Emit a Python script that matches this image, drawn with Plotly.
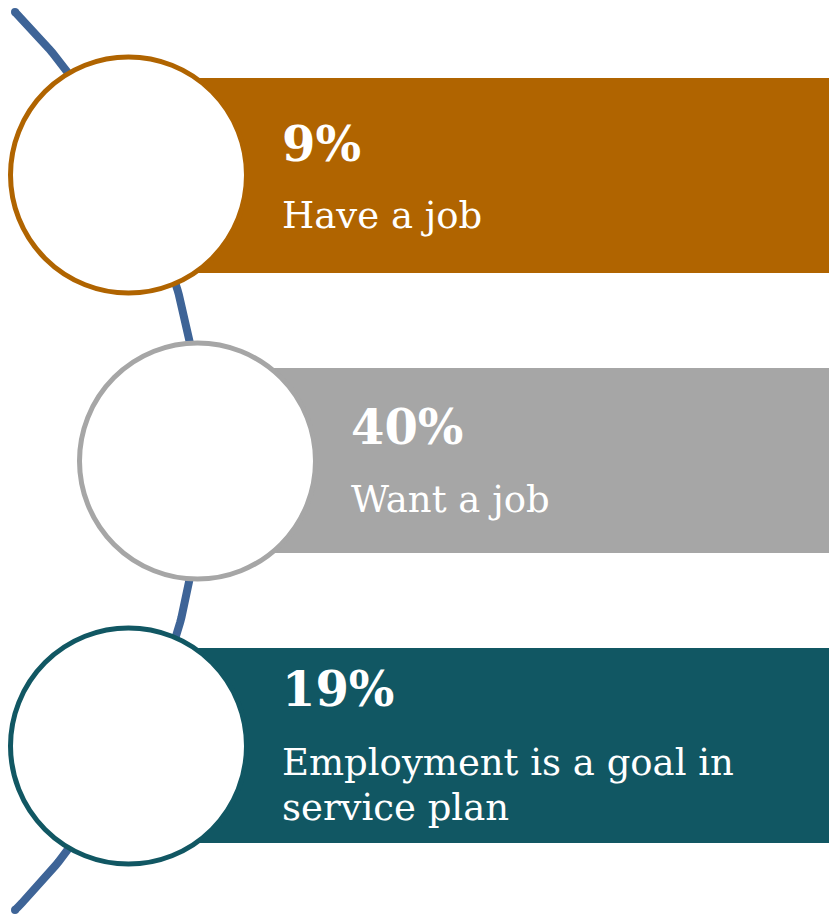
import numpy as np
import plotly.graph_objects as go

# Figures shown in each row
pct_values = [9, 40, 19]
label_lines = [
    ["Have a job"],
    ["Want a job"],
    ["Employment is a goal in", "service plan"],
]
fill_colors = ["#B06400", "#A6A6A6", "#115763"]
arc_color = "#3E6497"

W, H = 829, 916

# Layout geometry (pixel space, y grows downward)
circle_cx = [128.5, 197.5, 128.5]
circle_cy = [175, 461, 746]
circle_r = 118
band_top = [78, 368, 648]
band_bottom = [273, 553, 843]
text_x = [280, 349, 280]
pct_baseline = [160, 443, 705]
label_baseline = [[228], [512], [775, 820]]

FONT = "DejaVu Serif"
PCT_SIZE = 48
LBL_SIZE = 37

fig = go.Figure()

# Connecting arc: quarter circle centred far to the left
arc_cx, arc_cy, arc_r = -434, 461, 635
theta = np.linspace(-np.pi / 4, np.pi / 4, 200)
ax = arc_cx + arc_r * np.cos(theta)
ay = arc_cy + arc_r * np.sin(theta)
fig.add_trace(go.Scatter(x=ax, y=ay, mode="lines",
                         line=dict(color=arc_color, width=8),
                         hoverinfo="skip", showlegend=False))
fig.add_trace(go.Scatter(x=[ax[0], ax[-1]], y=[ay[0], ay[-1]], mode="markers",
                         marker=dict(color=arc_color, size=8),
                         hoverinfo="skip", showlegend=False))

shapes = []
for i in range(len(pct_values)):
    shapes.append(dict(type="rect", xref="x", yref="y",
                       x0=circle_cx[i], x1=W + 5, y0=band_top[i], y1=band_bottom[i],
                       fillcolor=fill_colors[i], line=dict(width=0), layer="above"))
for i in range(len(pct_values)):
    shapes.append(dict(type="circle", xref="x", yref="y",
                       x0=circle_cx[i] - circle_r, x1=circle_cx[i] + circle_r,
                       y0=circle_cy[i] - circle_r, y1=circle_cy[i] + circle_r,
                       fillcolor="white", line=dict(color=fill_colors[i], width=5),
                       layer="above"))

annotations = []
for i, v in enumerate(pct_values):
    annotations.append(dict(x=text_x[i], y=pct_baseline[i] - 0.33 * PCT_SIZE,
                            xref="x", yref="y", xanchor="left", yanchor="middle",
                            text=f"<b>{v}%</b>", showarrow=False,
                            font=dict(family=FONT, size=PCT_SIZE, color="white")))
    for line, base in zip(label_lines[i], label_baseline[i]):
        annotations.append(dict(x=text_x[i], y=base - 0.33 * LBL_SIZE,
                                xref="x", yref="y", xanchor="left", yanchor="middle",
                                text=line, showarrow=False,
                                font=dict(family=FONT, size=LBL_SIZE, color="white")))

fig.update_layout(
    width=W, height=H,
    margin=dict(l=0, r=0, t=0, b=0),
    paper_bgcolor="white", plot_bgcolor="white",
    xaxis=dict(range=[0, W], visible=False, fixedrange=True),
    yaxis=dict(range=[H, 0], visible=False, fixedrange=True),
    shapes=shapes, annotations=annotations,
    showlegend=False,
)

fig.write_html("out.html", config={"displayModeBar": False})
